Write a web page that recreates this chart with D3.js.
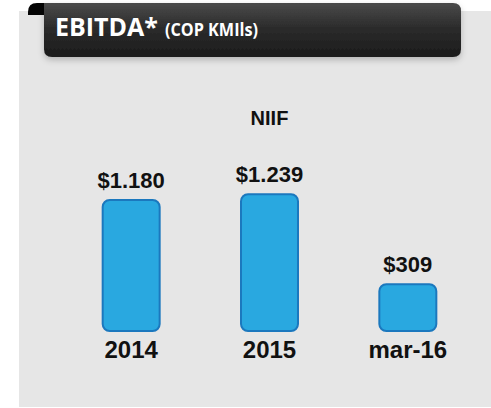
<!DOCTYPE html>
<html>
<head>
<meta charset="utf-8">
<script src="https://cdn.jsdelivr.net/npm/d3@7"></script>
<style>
  body { margin: 0; background: #ffffff; }
  svg { display: block; }
</style>
</head>
<body>
<div id="chart"></div>
<script>
// chart data
const categories = ["2014", "2015", "mar-16"];
const values = [1180, 1239, 309];
const valueLabels = ["$1.180", "$1.239", "$309"];
const seriesName = "NIIF";

const width = 491, height = 408;

const svg = d3.select("#chart").append("svg")
    .attr("width", width)
    .attr("height", height);

const defs = svg.append("defs");

const grad = defs.append("linearGradient")
    .attr("id", "titleGrad")
    .attr("x1", 0).attr("y1", 0).attr("x2", 0).attr("y2", 1);
grad.append("stop").attr("offset", "0%").attr("stop-color", "#4b4b4b");
grad.append("stop").attr("offset", "45%").attr("stop-color", "#2c2c2c");
grad.append("stop").attr("offset", "100%").attr("stop-color", "#1b1b1b");

const shadow = defs.append("filter")
    .attr("id", "shadow")
    .attr("x", "-10%").attr("y", "-20%")
    .attr("width", "130%").attr("height", "160%");
shadow.append("feDropShadow")
    .attr("dx", 0).attr("dy", 3)
    .attr("stdDeviation", 3)
    .attr("flood-color", "#000")
    .attr("flood-opacity", 0.22);

// gray panel
svg.append("rect")
    .attr("x", 19).attr("y", 11)
    .attr("width", width - 19).attr("height", 396)
    .attr("fill", "#e6e6e6");

// title ribbon curl
svg.append("path")
    .attr("d", "M28,15 L28,12 Q28,3 37,3 L48,3 L48,15 Z")
    .attr("fill", "#050505");

// title bar
const r = 8;
const bx0 = 44, bx1 = 461, by0 = 3, by1 = 57;
svg.append("path")
    .attr("d", `M${bx0},${by0} L${bx1 - r},${by0} Q${bx1},${by0} ${bx1},${by0 + r}
        L${bx1},${by1 - r} Q${bx1},${by1} ${bx1 - r},${by1}
        L${bx0 + r},${by1} Q${bx0},${by1} ${bx0},${by1 - r} Z`)
    .attr("fill", "url(#titleGrad)")
    .attr("filter", "url(#shadow)");

const title = svg.append("text")
    .attr("x", 55).attr("y", 36)
    .attr("fill", "#ffffff")
    .style("font-family", "'Open Sans', sans-serif")
    .style("font-weight", "bold");
title.append("tspan").attr("font-size", 25).text("EBITDA*");

svg.append("text")
    .attr("x", 165).attr("y", 36)
    .attr("fill", "#ffffff")
    .style("font-family", "'Open Sans', sans-serif")
    .style("font-weight", "bold")
    .attr("font-size", 18)
    .attr("textLength", 93)
    .attr("lengthAdjust", "spacingAndGlyphs")
    .text("(COP KMIls)");

// scales
const x = d3.scaleBand()
    .domain(categories)
    .range([62, 477])
    .paddingInner(0.588)
    .paddingOuter(0.294);

const y = d3.scaleLinear()
    .domain([-175, 1500])
    .range([331, 169]);

const font = "'Liberation Sans', Arial, sans-serif";

// series name
svg.append("text")
    .attr("x", x(categories[1]) + x.bandwidth() / 2)
    .attr("y", 125)
    .attr("text-anchor", "middle")
    .style("font-family", font)
    .style("font-weight", "bold")
    .style("font-size", "20px")
    .attr("fill", "#111")
    .text(seriesName);

const data = categories.map((c, i) => ({ cat: c, value: values[i], label: valueLabels[i] }));

// bars
svg.append("g").selectAll("rect")
    .data(data)
    .join("rect")
    .attr("x", d => x(d.cat))
    .attr("y", d => y(d.value))
    .attr("width", x.bandwidth())
    .attr("height", d => y(y.domain()[0]) - y(d.value))
    .attr("rx", 7)
    .attr("fill", "#29a8e0")
    .attr("stroke", "#1b78be")
    .attr("stroke-width", 2);

// value labels
svg.append("g").selectAll("text")
    .data(data)
    .join("text")
    .attr("x", d => x(d.cat) + x.bandwidth() / 2)
    .attr("y", d => y(d.value) - 12)
    .attr("text-anchor", "middle")
    .style("font-family", font)
    .style("font-weight", "bold")
    .style("font-size", "22px")
    .attr("fill", "#111")
    .text(d => d.label);

// category labels
svg.append("g").selectAll("text")
    .data(categories)
    .join("text")
    .attr("x", d => x(d) + x.bandwidth() / 2)
    .attr("y", 358)
    .attr("text-anchor", "middle")
    .style("font-family", font)
    .style("font-weight", "bold")
    .style("font-size", "24px")
    .attr("fill", "#111")
    .text(d => d);
</script>
</body>
</html>
